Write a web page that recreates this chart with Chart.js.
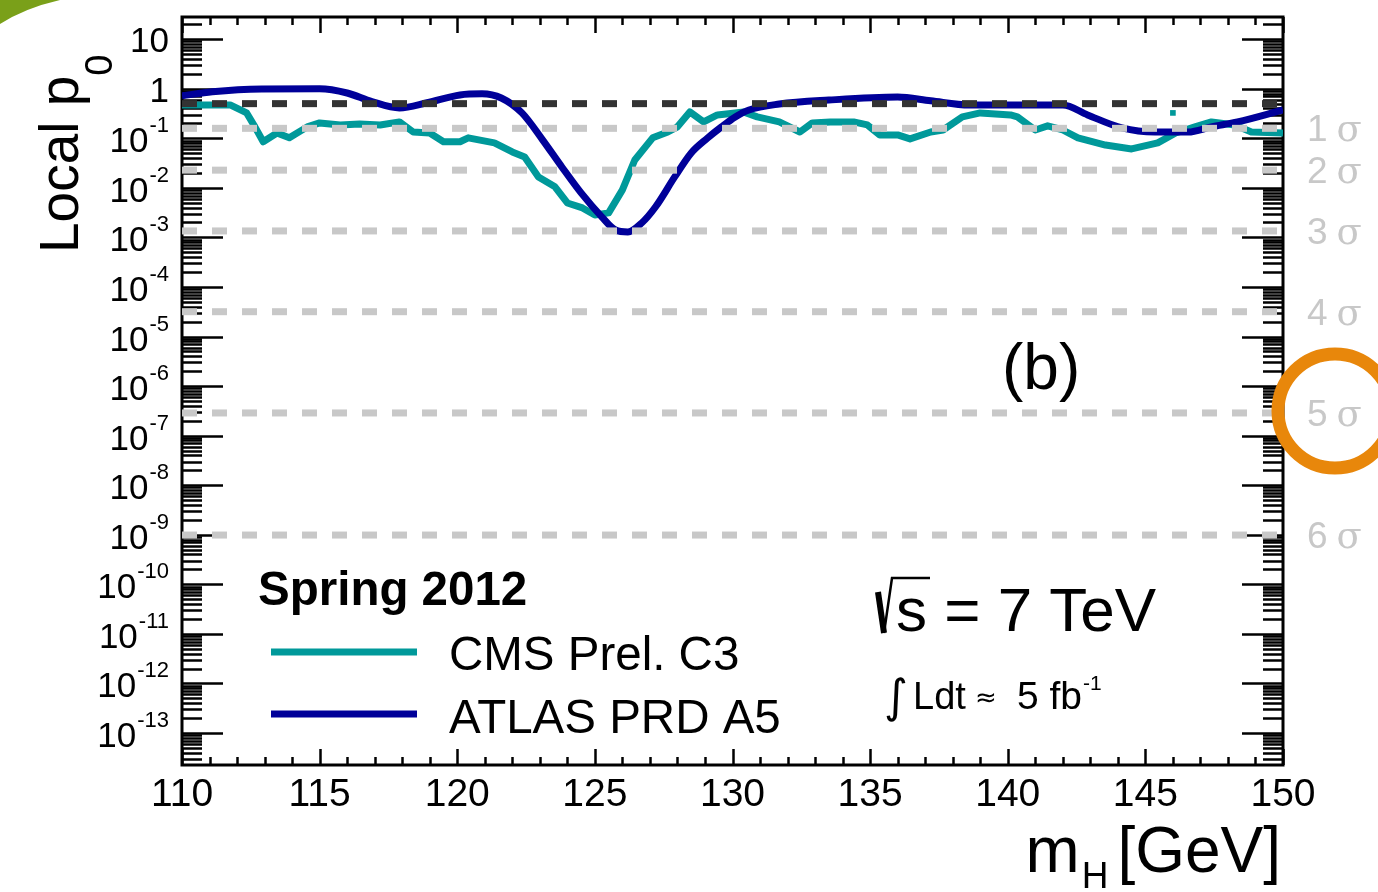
<!DOCTYPE html>
<html>
<head>
<meta charset="utf-8">
<title>Local p0 vs mH</title>
<script src="https://cdn.jsdelivr.net/npm/chart.js@4/dist/chart.umd.min.js"></script>
<style>
  html, body { margin: 0; padding: 0; background: #fff; }
  #wrap { width: 1378px; height: 892px; }
</style>
</head>
<body>
<div id="wrap"><canvas id="p0chart" width="1378" height="892"></canvas></div>
<script>
// Higgs mass hypothesis [GeV] and local p0, CMS C3 combination
const cmsMass = [110.0, 110.65, 111.75, 112.35, 112.65, 112.95, 113.45, 113.9, 114.55, 115.0,
  115.75, 116.45, 117.2, 117.9, 118.4, 119.0, 119.5, 120.1, 120.4, 121.35,
  122.0, 122.45, 122.95, 123.55, 124.0, 124.55, 125.0, 125.5, 126.0, 126.45,
  127.1, 127.65, 128.0, 128.45, 128.95, 129.45, 130.1, 130.4, 130.9, 131.7,
  132.45, 132.9, 133.55, 134.4, 134.9, 135.35, 136.0, 136.45, 137.2, 137.65,
  138.35, 139.0, 140.1, 140.35, 141.0, 141.45, 142.0, 142.55, 143.55, 144.5,
  145.45, 146.1, 146.8, 147.4, 148.25, 148.85, 150.0]
const cmsP0 = [0.47, 0.47, 0.47, 0.325, 0.17, 0.085, 0.128, 0.102, 0.17, 0.204,
  0.186, 0.195, 0.186, 0.214, 0.134, 0.128, 0.085, 0.085, 0.102, 0.081,
  0.053, 0.042, 0.0166, 0.0105, 0.00495, 0.00393, 0.00284, 0.00312, 0.0091, 0.0364,
  0.102, 0.134, 0.17, 0.34, 0.214, 0.296, 0.325, 0.34, 0.27, 0.214,
  0.134, 0.204, 0.214, 0.214, 0.186, 0.117, 0.117, 0.097, 0.134, 0.147,
  0.27, 0.325, 0.296, 0.27, 0.147, 0.178, 0.147, 0.102, 0.073, 0.061,
  0.081, 0.128, 0.17, 0.214, 0.186, 0.134, 0.128]

// isolated CMS point near 146 GeV
const cmsExtraMass = [146.0]
const cmsExtraP0 = [0.325]

// ATLAS A5
const atlasMass = [110.0, 111.1, 112.9, 115.0, 116.0, 116.9, 117.9, 118.9, 120.1, 120.9,
  121.6, 122.35, 123.1, 123.8, 124.5, 125.25, 125.75, 126.2, 126.7, 127.2,
  127.9, 128.5, 129.1, 129.6, 130.1, 130.6, 131.7, 133.5, 136.0, 137.2,
  138.6, 140.1, 142.0, 142.9, 144.15, 145.35, 146.55, 147.4, 148.35, 150.0]
const atlasP0 = [0.72, 0.87, 0.99, 1.0, 0.82, 0.55, 0.41, 0.52, 0.75, 0.79,
  0.65, 0.325, 0.093, 0.0264, 0.0079, 0.0026, 0.00141, 0.00129, 0.00195, 0.0041,
  0.0166, 0.0507, 0.102, 0.17, 0.27, 0.373, 0.49, 0.59, 0.68, 0.57,
  0.47, 0.47, 0.47, 0.296, 0.162, 0.134, 0.134, 0.17, 0.214, 0.373]

// significance reference lines
const sigmaP0 = [0.1587, 0.02275, 0.00135, 3.167e-5, 2.867e-7, 9.866e-10]
const sigmaLabels = ['1', '2', '3', '4', '5', '6']
const medianP0 = 0.5

// axes
const xTicks = [110, 115, 120, 125, 130, 135, 140, 145, 150]
const yDecades = [1, 0, -1, -2, -3, -4, -5, -6, -7, -8, -9, -10, -11, -12, -13]
const xMin = 110, xMax = 150
const yMin = 2.26e-14, yMax = 28

const FONT = '"Liberation Sans", Arial, Helvetica, sans-serif'
const CYAN = '#00999a'
const NAVY = '#000099'
const SIGMA_GRAY = '#c8c8c8'

const toPoints = (xs, ys) => xs.map((x, i) => ({ x, y: ys[i] }))

function refLine(p, color) {
  return {
    data: [{ x: xMin, y: p }, { x: xMax, y: p }],
    borderColor: color,
    borderWidth: 7,
    borderDash: [15, 15],
    pointRadius: 0,
    order: 0
  }
}

function text(ctx, s, x, y, size, opts = {}) {
  ctx.font = `${opts.bold ? 'bold ' : ''}${size}px ${opts.family || FONT}`
  ctx.fillStyle = opts.color || '#000'
  ctx.textAlign = opts.align || 'left'
  ctx.textBaseline = 'alphabetic'
  ctx.fillText(s, x, y)
  return ctx.measureText(s).width
}

function seg(ctx, x1, y1, x2, y2) {
  ctx.beginPath()
  ctx.moveTo(x1, y1)
  ctx.lineTo(x2, y2)
  ctx.stroke()
}

// frame and inward ticks, drawn below the curves
const rootFrame = {
  id: 'rootFrame',
  beforeDatasetsDraw(chart) {
    const { ctx, chartArea: a, scales: { x, y } } = chart
    ctx.save()
    ctx.strokeStyle = '#000'
    ctx.lineWidth = 2.5

    // log ticks on left and right
    for (let e = -14; e <= 1; e++) {
      for (let m = 1; m <= 9; m++) {
        const v = m * Math.pow(10, e)
        if (v < yMin || v > yMax) continue
        const py = Math.round(y.getPixelForValue(v)) + 0.5
        const len = m === 1 ? 41 : 20
        seg(ctx, a.left, py, a.left + len, py)
        seg(ctx, a.right, py, a.right - len, py)
      }
    }

    // linear ticks on bottom and top
    for (let v = xMin; v <= xMax; v++) {
      const px = Math.round(x.getPixelForValue(v)) + 0.5
      const len = v % 5 === 0 ? 16 : 8
      seg(ctx, px, a.bottom, px, a.bottom - len)
      seg(ctx, px, a.top, px, a.top + len)
    }

    ctx.lineWidth = 3
    ctx.strokeRect(a.left, a.top, a.right - a.left, a.bottom - a.top)
    ctx.restore()
  },

  afterDraw(chart) {
    const { ctx, scales: { x, y } } = chart
    ctx.save()

    // y tick labels
    yDecades.forEach(e => {
      const py = y.getPixelForValue(Math.pow(10, e))
      if (e === 1 || e === 0) {
        text(ctx, e === 1 ? '10' : '1', 169, py + 13, 35, { align: 'right' })
      } else {
        const w = text(ctx, '-' + Math.abs(e), 169, py - 6, 22, { align: 'right' })
        text(ctx, '10', 169 - w - 1, py + 14, 35, { align: 'right' })
      }
    })

    // x tick labels
    xTicks.forEach(v => {
      text(ctx, String(v), x.getPixelForValue(v), 806, 39, { align: 'center' })
    })

    // sigma labels
    sigmaP0.forEach((p, i) => {
      const py = y.getPixelForValue(p)
      const w = text(ctx, sigmaLabels[i], 1307, py + 13, 37, { color: SIGMA_GRAY })
      text(ctx, 'σ', 1307 + w + 9, py + 13, 37, { color: SIGMA_GRAY, family: '"DejaVu Serif", serif' })
    })

    // y title
    ctx.save()
    ctx.translate(78, 253)
    ctx.rotate(-Math.PI / 2)
    const wl = text(ctx, 'Local p', 0, 0, 55)
    text(ctx, '0', wl, 34, 38)
    ctx.restore()

    // x title
    ctx.font = `64px ${FONT}`
    const wg = ctx.measureText('[GeV]').width
    text(ctx, '[GeV]', 1281, 872, 64, { align: 'right' })
    const hRight = 1281 - wg - 9
    const wh = text(ctx, 'H', hRight, 888, 37, { align: 'right' })
    text(ctx, 'm', hRight - wh - 2, 872, 65, { align: 'right' })

    // legend
    text(ctx, 'Spring 2012', 258, 605, 47.5, { bold: true })
    ctx.lineWidth = 7
    ctx.strokeStyle = CYAN
    seg(ctx, 271, 652, 417, 652)
    ctx.strokeStyle = NAVY
    seg(ctx, 271, 714, 417, 714)
    text(ctx, 'CMS Prel. C3', 449, 670, 47.5)
    text(ctx, 'ATLAS PRD A5', 449, 733, 47.5)

    // panel label and conditions
    text(ctx, '(b)', 1002, 389, 64)

    ctx.strokeStyle = '#000'
    ctx.lineCap = 'butt'
    ctx.lineWidth = 6
    seg(ctx, 878, 592, 884, 633)
    ctx.lineWidth = 2.5
    ctx.beginPath()
    ctx.moveTo(884, 633)
    ctx.lineTo(892, 578)
    ctx.lineTo(930, 578)
    ctx.stroke()
    text(ctx, 's = 7 TeV', 896, 631, 62)

    text(ctx, '∫', 884, 712, 46, { family: '"DejaVu Sans", sans-serif' })
    text(ctx, 'Ldt', 913, 709, 38)
    text(ctx, '≈', 975, 706, 26, { family: '"DejaVu Sans", sans-serif' })
    const wf = text(ctx, '5 fb', 1017, 709, 39)
    text(ctx, '-1', 1017 + wf + 1, 690, 21)

    // highlight ring around the 5 sigma label
    ctx.strokeStyle = '#e8870b'
    ctx.lineWidth = 13
    ctx.beginPath()
    ctx.arc(1335, 411, 57, 0, Math.PI * 2)
    ctx.stroke()

    // corner mark
    ctx.fillStyle = '#7aa019'
    ctx.beginPath()
    ctx.moveTo(0, 0)
    ctx.lineTo(60, 0)
    ctx.quadraticCurveTo(25, 8, 0, 24)
    ctx.closePath()
    ctx.fill()

    ctx.restore()
  }
}

const datasets = [
  refLine(medianP0, '#333333'),
  ...sigmaP0.map(p => refLine(p, SIGMA_GRAY)),
  {
    data: toPoints(cmsExtraMass, cmsExtraP0),
    showLine: false,
    pointStyle: 'rect',
    pointRadius: 4,
    pointBorderWidth: 0,
    pointBackgroundColor: CYAN,
    order: 1
  },
  {
    label: 'ATLAS PRD A5',
    data: toPoints(atlasMass, atlasP0),
    borderColor: NAVY,
    borderWidth: 7,
    cubicInterpolationMode: 'monotone',
    pointRadius: 0,
    order: 1
  },
  {
    label: 'CMS Prel. C3',
    data: toPoints(cmsMass, cmsP0),
    borderColor: CYAN,
    borderWidth: 7,
    borderJoinStyle: 'round',
    tension: 0,
    pointRadius: 0,
    order: 2
  }
]

new Chart(document.getElementById('p0chart'), {
  type: 'line',
  data: { datasets },
  options: {
    responsive: false,
    devicePixelRatio: 1,
    animation: false,
    layout: { padding: { left: 182, right: 95, top: 17, bottom: 127 } },
    plugins: { legend: { display: false }, tooltip: { enabled: false } },
    scales: {
      x: { type: 'linear', min: xMin, max: xMax, display: false },
      y: { type: 'logarithmic', min: yMin, max: yMax, display: false }
    }
  },
  plugins: [rootFrame]
})
</script>
</body>
</html>
